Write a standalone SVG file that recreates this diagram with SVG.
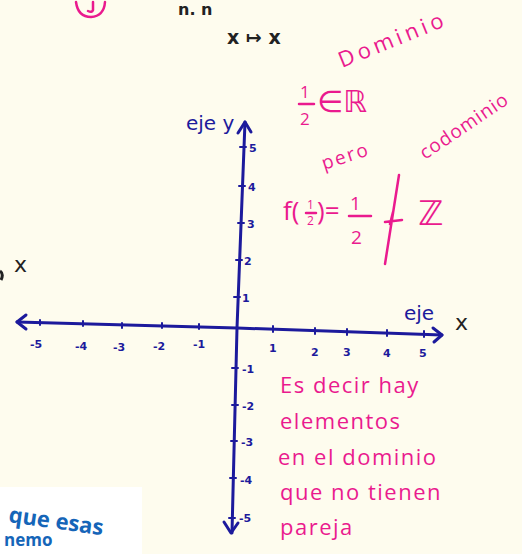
<svg xmlns="http://www.w3.org/2000/svg" width="522" height="554" viewBox="0 0 522 554">
<style>
.ax{fill:none;stroke:#1c1a9c;stroke-width:3;stroke-linecap:round;stroke-linejoin:round}
.tk{fill:none;stroke:#1c1a9c;stroke-width:2;stroke-linecap:round}
.bl{font-family:"DejaVu Sans",sans-serif;fill:#1c1a9c;font-weight:bold}
.bn{font-family:"DejaVu Sans",sans-serif;fill:#1c1a9c}
.pk{font-family:"Open Sans","DejaVu Sans",sans-serif;fill:#ea1a8e}
.bk{font-family:"DejaVu Sans",sans-serif;fill:#222}
.pks{fill:none;stroke:#ea1a8e;stroke-width:2.5;stroke-linecap:round}
</style>
<rect width="522" height="554" fill="#fefcee"/>
<!-- top partial -->
<path class="pks" d="M76,2 Q78,17 91,17 Q104,16 105,2"/>
<path class="pks" d="M93,2 L93,10 Q92,13 88,11"/>
<text class="bk" x="178" y="15" font-size="16" font-weight="bold">n. n</text>
<text class="bk" x="227" y="44" font-size="19" font-weight="bold">x ↦ x</text>
<!-- pink notes -->
<text class="pk" x="342" y="68" font-size="22" transform="rotate(-22 342 68)" letter-spacing="4">Dominio</text>
<text class="pk" x="300" y="98" font-size="17">1</text>
<line class="pks" x1="299" y1="104" x2="314" y2="104"/>
<text class="pk" x="300" y="125" font-size="17">2</text>
<text class="pk" x="317" y="112" font-size="30">∈ℝ</text>
<text class="pk" x="324" y="170" font-size="19" transform="rotate(-18 324 170)" letter-spacing="2">pero</text>
<text class="pk" x="425" y="160" font-size="19" transform="rotate(-34 425 160)" letter-spacing="1">codominio</text>
<text class="pk" x="283" y="220" font-size="26">f(</text>
<text class="pk" x="307" y="209" font-size="12">1</text>
<line class="pks" x1="306" y1="213" x2="316" y2="213" stroke-width="1.5"/>
<text class="pk" x="307" y="225" font-size="12">2</text>
<text class="pk" x="317" y="220" font-size="26">)=</text>
<text class="pk" x="350" y="210" font-size="19">1</text>
<line class="pks" x1="349" y1="216" x2="371" y2="216"/>
<text class="pk" x="351" y="244" font-size="19">2</text>
<path class="pks" d="M385,222 L402,220 M393,212 L390,224 M399,175 L385,264"/>
<text class="pk" x="418" y="225" font-size="34" font-family="DejaVu Sans">ℤ</text>
<!-- axes -->
<g id="axes">
<path class="ax" d="M245,122 L237,328 L232,533"/>
<path class="ax" d="M238,133 L245,122 L251,132"/>
<path class="ax" d="M224,522 L231,533 L238,523"/>
<path class="ax" d="M17,322 L237,328 L442,335"/>
<path class="ax" d="M433,328 L442,335 L434,342"/>
<path class="ax" d="M26,315 L17,322 L26,329"/>
<path class="tk" d="M240,147h6M239,186h6M238,223h6M236,260h6M234,297h6M232,368h6M232,405h6M231,441h6M230,478h6M229,518h6"/>
<path class="tk" d="M40,320v5M83,321v5M122,323v5M162,323v5M199,324v5M273,326v6M315,328v6M347,329v6M387,330v6M424,331v6"/>
</g>
<g id="ticklabels">
<text class="bl" font-size="11" x="249" y="152">5</text>
<text class="bl" font-size="11" x="248" y="191">4</text>
<text class="bl" font-size="11" x="247" y="228">3</text>
<text class="bl" font-size="11" x="244" y="265">2</text>
<text class="bl" font-size="11" x="242" y="302">1</text>
<text class="bl" font-size="11" x="242" y="373">-1</text>
<text class="bl" font-size="11" x="242" y="410">-2</text>
<text class="bl" font-size="11" x="241" y="446">-3</text>
<text class="bl" font-size="11" x="240" y="484">-4</text>
<text class="bl" font-size="11" x="239" y="522">-5</text>
<text class="bl" font-size="11" x="30" y="348">-5</text>
<text class="bl" font-size="11" x="75" y="350">-4</text>
<text class="bl" font-size="11" x="113" y="351">-3</text>
<text class="bl" font-size="11" x="153" y="350">-2</text>
<text class="bl" font-size="11" x="193" y="348">-1</text>
<text class="bl" font-size="11" x="269" y="352">1</text>
<text class="bl" font-size="11" x="311" y="356">2</text>
<text class="bl" font-size="11" x="343" y="356">3</text>
<text class="bl" font-size="11" x="383" y="357">4</text>
<text class="bl" font-size="11" x="419" y="357">5</text>
</g>
<text class="bn" font-size="20" x="186" y="130">eje y</text>
<text class="bn" font-size="20" x="404" y="320">eje</text>
<text class="bk" font-size="22" x="455" y="330">x</text>
<text class="bk" font-size="22" x="14" y="272">x</text>
<path d="M0,271 Q4,274 1,280" fill="none" stroke="#222" stroke-width="3"/>
<!-- pink paragraph -->
<g class="pk" font-size="22" letter-spacing="1.5">
<text x="280" y="393">Es decir hay</text>
<text x="280" y="429">elementos</text>
<text x="278" y="465">en el dominio</text>
<text x="280" y="500">que no tienen</text>
<text x="280" y="535">pareja</text>
</g>
<!-- bottom-left image fragment -->
<rect x="0" y="487" width="142" height="67" fill="#ffffff"/>
<text x="8" y="522" font-family="Open Sans, sans-serif" font-weight="bold" font-size="22" fill="#1565b8" transform="rotate(8 8 522)">que esas</text>
<text x="4" y="546" font-family="Open Sans, sans-serif" font-weight="bold" font-size="17" fill="#1565b8">nemo</text>
</svg>
